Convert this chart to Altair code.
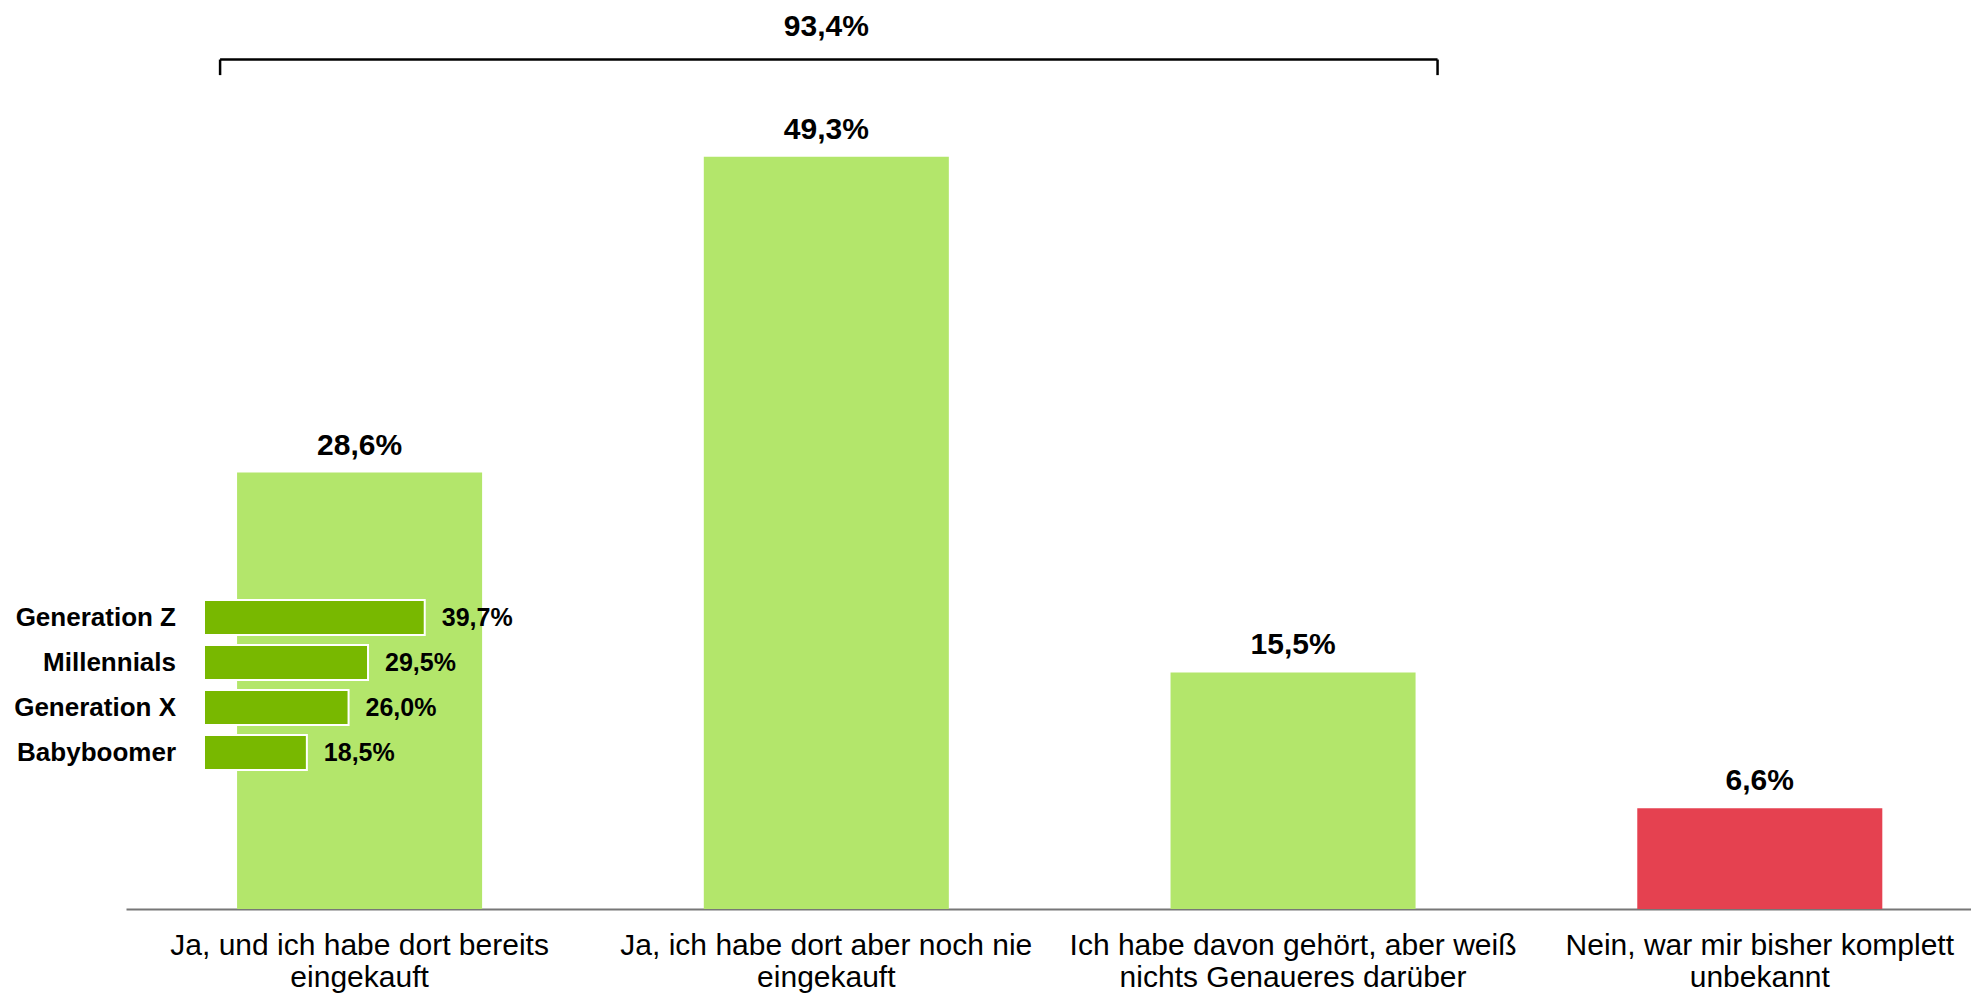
import altair as alt
import pandas as pd

# ---- data ----
categories = [
    "Ja, und ich habe dort bereits\neingekauft",
    "Ja, ich habe dort aber noch nie\neingekauft",
    "Ich habe davon gehört, aber weiß\nnichts Genaueres darüber",
    "Nein, war mir bisher komplett\nunbekannt",
]
values = [28.6, 49.3, 15.5, 6.6]

generations = ["Generation Z", "Millennials", "Generation X", "Babyboomer"]
gen_values = [39.7, 29.5, 26.0, 18.5]

total_value = round(sum(values[:3]), 1)  # 93,4 %

def fmt(v):
    return f"{v:.1f}".replace(".", ",") + "%"

LIGHT_GREEN = "#B3E66B"
DARK_GREEN = "#78B800"
RED = "#E54150"
FONT = "Liberation Sans"

main_df = pd.DataFrame({"cat": categories, "value": values,
                        "label": [fmt(v) for v in values]})

bracket_y = 55.67
tick_bottom = 54.65
bracket_df = pd.DataFrame({"start": [categories[0]], "end": [categories[2]],
                           "mid": [categories[1]], "y": [bracket_y],
                           "y2": [tick_bottom], "label": [fmt(total_value)]})

gen_df = pd.DataFrame({"gen": generations, "gv": gen_values, "base": [0] * 4,
                       "glabel": [fmt(v) for v in gen_values]})

# ---- scales / axis ----
xscale = alt.Scale(domain=categories, paddingInner=0.475, paddingOuter=0.214, align=0.556)
yscale = alt.Scale(domain=[0, 58], nice=False)
xaxis = alt.Axis(labelExpr="split(datum.label, '\\n')", labelAngle=0,
                 labelFontSize=30, labelFont=FONT, labelColor="#000",
                 labelLineHeight=32, labelPadding=21, labelLimit=600,
                 labelOverlap=False, ticks=False, grid=False, domainColor="#777",
                 domainWidth=2, title=None)

def X(field):
    return alt.X(field, type="nominal", scale=xscale, sort=None, axis=xaxis, title=None)

def Y(field):
    return alt.Y(field, type="quantitative", scale=yscale, axis=None)

bars = alt.Chart(main_df).mark_bar().encode(
    x=X("cat"),
    y=Y("value"),
    color=alt.Color("cat:N", scale=alt.Scale(domain=categories,
                    range=[LIGHT_GREEN, LIGHT_GREEN, LIGHT_GREEN, RED]), legend=None),
)

bar_labels = alt.Chart(main_df).mark_text(
    dy=-18, baseline="alphabetic", fontSize=30, fontWeight="bold", font=FONT, color="#000"
).encode(x=X("cat"), y=Y("value"), text="label:N")

bracket_h = alt.Chart(bracket_df).mark_rule(
    color="#000", strokeWidth=2.5, xOffset=-139.5, x2Offset=144.5
).encode(x=X("start"), x2="end:N", y=Y("y"))

tick_l = alt.Chart(bracket_df).mark_rule(
    color="#000", strokeWidth=2.5, xOffset=-139.5
).encode(x=X("start"), y=Y("y"), y2="y2:Q")

tick_r = alt.Chart(bracket_df).mark_rule(
    color="#000", strokeWidth=2.5, xOffset=144.5
).encode(x=X("end"), y=Y("y"), y2="y2:Q")

total_label = alt.Chart(bracket_df).mark_text(
    dy=-24, baseline="alphabetic", fontSize=30, fontWeight="bold", font=FONT, color="#000"
).encode(x=X("mid"), y=Y("y"), text="label:N")

main = alt.layer(bars, bar_labels, bracket_h, tick_l, tick_r, total_label)

# ---- inset (generations) ----
ixscale = alt.Scale(domain=[0, 100], range=[78, 634], nice=False, zero=True)
iyscale = alt.Scale(domain=generations, range=[571, 751], paddingInner=0.222, paddingOuter=0.111)

ibars = alt.Chart(gen_df).mark_bar(color=DARK_GREEN, stroke="white", strokeWidth=2).encode(
    x=alt.X("gv:Q", scale=ixscale, axis=None),
    x2="base:Q",
    y=alt.Y("gen:N", scale=iyscale, sort=None, axis=None),
)

inames = alt.Chart(gen_df).mark_text(
    align="right", dx=-28, baseline="middle", fontSize=26, fontWeight="bold", font=FONT, color="#000"
).encode(
    x=alt.X("base:Q", scale=ixscale, axis=None),
    y=alt.Y("gen:N", scale=iyscale, sort=None, axis=None),
    text="gen:N",
)

ivalues = alt.Chart(gen_df).mark_text(
    align="left", dx=17, baseline="middle", fontSize=25, fontWeight="bold", font=FONT, color="#000"
).encode(
    x=alt.X("gv:Q", scale=ixscale, axis=None),
    y=alt.Y("gen:N", scale=iyscale, sort=None, axis=None),
    text="glabel:N",
)

inset = alt.layer(ibars, inames, ivalues)

chart = alt.layer(main, inset).resolve_scale(
    x="independent", y="independent", color="independent"
).properties(
    width=1845, height=885,
    autosize=alt.AutoSizeParams(type="none"),
    padding={"left": 118, "top": 16, "right": 0, "bottom": 86},
).configure(font=FONT).configure_view(strokeWidth=0, stroke="transparent")

chart.save("out.html", embed_options={"renderer": "svg", "actions": False})
